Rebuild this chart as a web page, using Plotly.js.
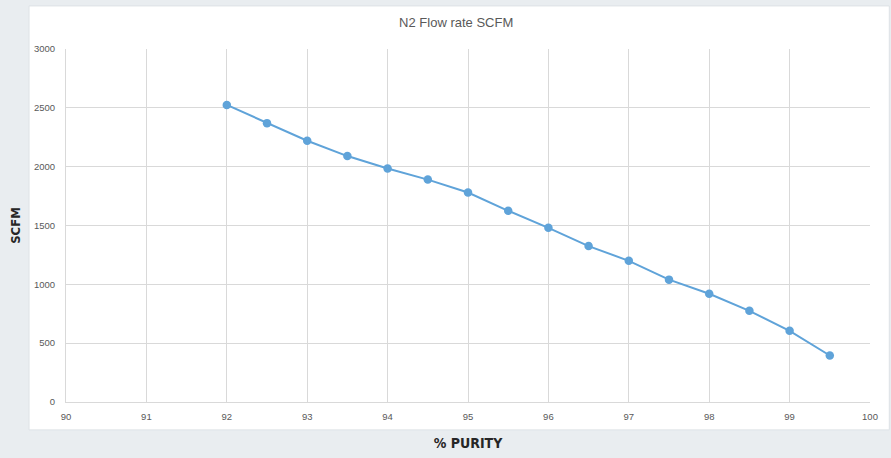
<!DOCTYPE html>
<html>
<head>
<meta charset="utf-8">
<script src="https://cdn.plot.ly/plotly-3.0.1.min.js"></script>
<style>
html,body{margin:0;padding:0;background:#e9edf0;}
#chart{width:891px;height:458px;}
</style>
</head>
<body>
<div id="chart"></div>
<script>
const purity = [92, 92.5, 93, 93.5, 94, 94.5, 95, 95.5, 96, 96.5, 97, 97.5, 98, 98.5, 99, 99.5];
const scfm = [2525, 2370, 2220, 2090, 1985, 1890, 1780, 1625, 1480, 1325, 1200, 1040, 920, 775, 605, 395];
const xTicks = [90, 91, 92, 93, 94, 95, 96, 97, 98, 99, 100];
const yTicks = [0, 500, 1000, 1500, 2000, 2500, 3000];

const lineColor = '#5fa3d9';
const gridColor = '#d9d9d9';
const tickFont = {family: 'Liberation Sans, Arial, sans-serif', size: 9.5, color: '#595959'};

const trace = {
  x: purity,
  y: scfm,
  type: 'scatter',
  mode: 'lines+markers',
  line: {color: lineColor, width: 2},
  marker: {color: lineColor, size: 8.5},
  hoverinfo: 'x+y'
};

const layout = {
  width: 891,
  height: 458,
  margin: {l: 66, r: 21, t: 49, b: 56},
  paper_bgcolor: '#e9edf0',
  plot_bgcolor: '#ffffff',
  showlegend: false,
  title: {
    text: 'N2 Flow rate SCFM',
    font: {family: 'Liberation Sans, Arial, sans-serif', size: 13, color: '#595959'},
    x: 0.512, xanchor: 'center',
    y: 0.952, yanchor: 'middle'
  },
  xaxis: {
    range: [90, 100],
    tickvals: xTicks,
    ticktext: xTicks.map(String),
    showgrid: true,
    gridcolor: gridColor,
    gridwidth: 1,
    zeroline: false,
    showline: true,
    linecolor: gridColor,
    linewidth: 1,
    mirror: false,
    ticks: '',
    ticklabelstandoff: 6,
    tickfont: tickFont,
    title: {
      text: '% PURITY',
      font: {family: 'DejaVu Sans Condensed, Liberation Sans Narrow, sans-serif', size: 14, color: '#262626', weight: 'bold'},
      standoff: 16
    },
    automargin: false,
    fixedrange: true
  },
  yaxis: {
    range: [0, 3000],
    tickvals: yTicks,
    ticktext: yTicks.map(String),
    showgrid: true,
    gridcolor: gridColor,
    gridwidth: 1,
    zeroline: false,
    showline: true,
    linecolor: gridColor,
    linewidth: 1,
    ticks: '',
    ticklabelstandoff: 8,
    tickfont: tickFont,
    title: {
      text: 'SCFM',
      font: {family: 'DejaVu Sans Condensed, Liberation Sans, sans-serif', size: 13, color: '#262626', weight: 'bold'},
      standoff: 10
    },
    automargin: false,
    fixedrange: true
  },
  shapes: [{
    type: 'rect',
    xref: 'paper', yref: 'paper',
    x0: -0.046, x1: 1.024,
    y0: -0.079, y1: 1.122,
    fillcolor: '#ffffff',
    line: {color: '#dde2e6', width: 1},
    layer: 'below'
  }]
};

Plotly.newPlot('chart', [trace], layout, {displayModeBar: false});
</script>
</body>
</html>
